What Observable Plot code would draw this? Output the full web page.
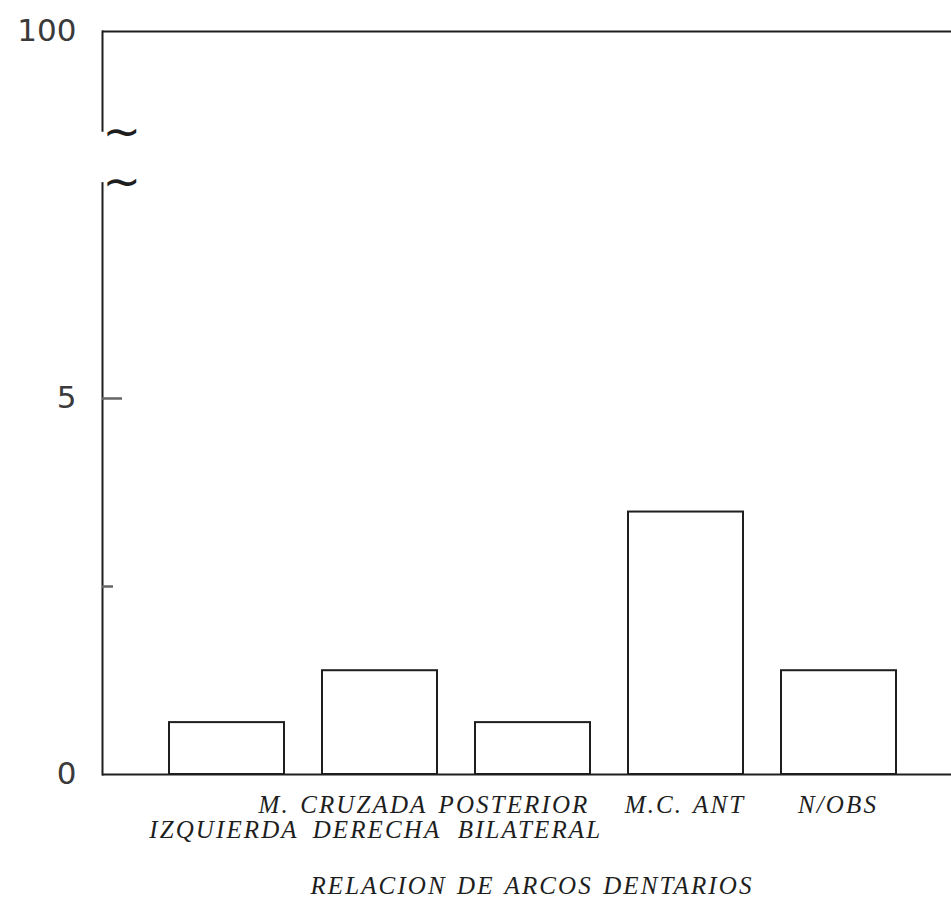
<!DOCTYPE html>
<html>
<head>
<meta charset="utf-8">
<script src="https://cdn.jsdelivr.net/npm/d3@7"></script>
<script src="https://cdn.jsdelivr.net/npm/@observablehq/plot@0.6"></script>
<style>
  html, body { margin: 0; padding: 0; background: #fff; }
  svg g[font-style="italic"], svg g[font-style="italic"] text { letter-spacing: 2.1px; word-spacing: 2px; }
</style>
</head>
<body>
<div id="chart"></div>
<script>
// ---- data ----
const categories = ["IZQUIERDA", "DERECHA", "BILATERAL", "M.C. ANT", "N/OBS"];
const values = [0.69, 1.38, 0.69, 3.49, 1.38];
const labelLine1 = ["", "M. CRUZADA", "POSTERIOR", "M.C. ANT", "N/OBS"];
const labelLine2 = ["IZQUIERDA", "DERECHA", "BILATERAL", "", ""];
const axisTitle = "RELACION DE ARCOS DENTARIOS";
const yTickValues = [0, 5];
const yTickLabels = ["0", "5"];
const yMinorTicks = [2.5];
const yTopValue = 9.88;      // position of the "100" line above the axis break
const yTopLabel = "100";
const yBreak = [7.87, 8.54]; // gap in the y axis (between the two ~ marks)

const data = categories.map((c, i) => ({cat: c, value: values[i], l1: labelLine1[i], l2: labelLine2[i]}));
const serif = "'Liberation Serif', 'Times New Roman', serif";
const ink = "#1e1e1e";
const labelStyle = {fontSize: 25, fontStyle: "italic", fontFamily: serif, fill: ink, frameAnchor: "bottom"};

const chart = Plot.plot({
  width: 951,
  height: 898,
  marginLeft: 102,
  marginRight: 0,
  marginTop: 31,
  marginBottom: 124,
  style: {background: "#fff", color: ink},
  x: {type: "band", domain: categories, paddingInner: 0.25, paddingOuter: 0.39, align: 0.55, axis: null},
  y: {domain: [0, yTopValue], axis: null},
  marks: [
    Plot.frame({anchor: "left", stroke: ink, strokeWidth: 2}),
    Plot.rect([yBreak], {y1: d => d[0], y2: d => d[1], fill: "white", insetLeft: -5}),
    Plot.ruleY([yTopValue], {stroke: ink, strokeWidth: 2}),
    Plot.barY(data, {x: "cat", y: "value", fill: "white", stroke: ink, strokeWidth: 2}),
    Plot.ruleY([0], {stroke: ink, strokeWidth: 2}),
    Plot.axisY({ticks: [5], tickSize: -20, fill: "none", stroke: "#666", strokeWidth: 2.5, label: null}),
    Plot.axisY({ticks: yMinorTicks, tickSize: -11, fill: "none", stroke: "#666", strokeWidth: 2.5, label: null}),
    Plot.axisY({
      ticks: [...yTickValues, yTopValue],
      tickFormat: d => d === yTopValue ? yTopLabel : yTickLabels[yTickValues.indexOf(d)],
      tickSize: 0, tickPadding: 26, fontSize: 31, fontFamily: "'DejaVu Sans', sans-serif",
      fill: "#3a3a3a", label: null
    }),
    Plot.text(yBreak, {y: d => d, text: () => "~", frameAnchor: "left", fontSize: 46,
      fontFamily: "'DejaVu Sans', sans-serif", fill: ink}),
    // category labels
    Plot.text(data, {x: "cat", text: "l2", dy: 63, dx: -3, ...labelStyle}),
    Plot.text(data.filter(d => d.l1 === "M. CRUZADA"), {x: "cat", text: "l1", dy: 38, dx: -37, ...labelStyle}),
    Plot.text(data.filter(d => d.l1 === "POSTERIOR"), {x: "cat", text: "l1", dy: 38, dx: -19, ...labelStyle}),
    Plot.text(data.filter(d => d.l2 === ""), {x: "cat", text: "l1", dy: 38, dx: -1, ...labelStyle}),
    Plot.text([axisTitle], {text: d => d, dy: 119, dx: 5, ...labelStyle})
  ]
});
document.getElementById("chart").appendChild(chart);
</script>
</body>
</html>
